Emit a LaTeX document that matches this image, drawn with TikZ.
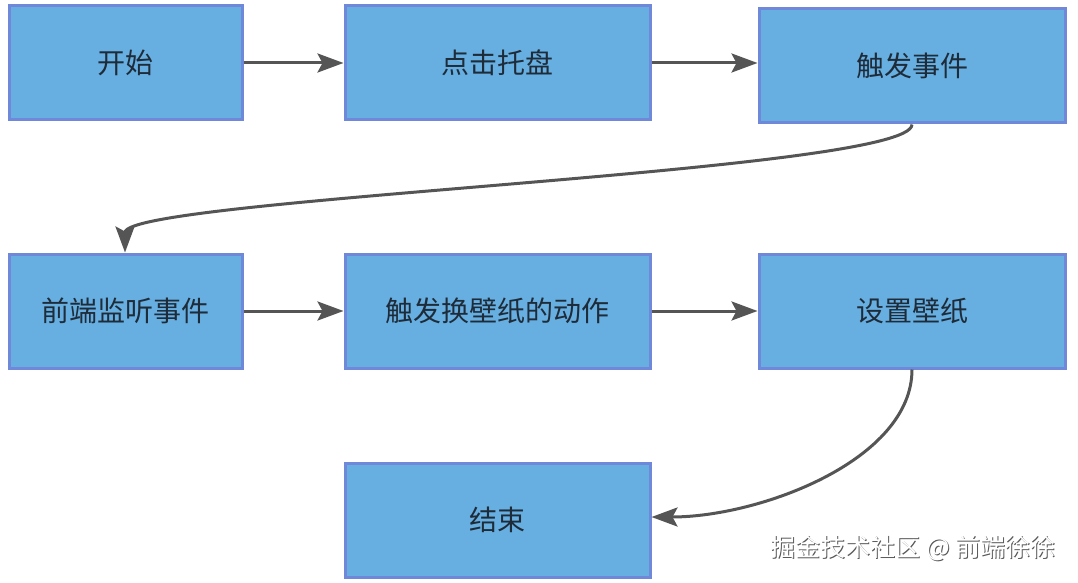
\documentclass[tikz,border=0pt]{standalone}
\usepackage{fontspec}
\setmainfont{Noto Sans CJK SC}
\usetikzlibrary{arrows.meta}
\definecolor{boxfill}{HTML}{67AEE1}
\definecolor{boxline}{HTML}{6F88DA}
\definecolor{txt}{HTML}{1E2B38}
\definecolor{arr}{HTML}{555555}
\begin{document}
\begin{tikzpicture}[x=1pt,y=-1pt,
  box/.style={draw=boxline, line width=3pt, fill=boxfill, inner sep=0pt,
    minimum height=114pt, text=txt, font=\fontsize{28}{32}\selectfont},
  conn/.style={draw=arr, line width=3pt, -{Stealth[length=26pt,width=19pt,inset=5pt]}},
  wmfont/.style={font=\fontsize{25}{29}\selectfont, anchor=east}]
\useasboundingbox (0,0) rectangle (1078,583);
\node[box, minimum width=233pt] (a) at (125.5,63) {开始};
\node[box, minimum width=305pt] (b) at (497.5,63) {点击托盘};
\node[box, minimum width=306pt] (c) at (912,66) {触发事件};
\node[box, minimum width=233pt] (d) at (125.5,311) {前端监听事件};
\node[box, minimum width=305pt] (e) at (497.5,311) {触发换壁纸的动作};
\node[box, minimum width=306pt] (f) at (912,311) {设置壁纸};
\node[box, minimum width=305pt] (g) at (497.5,520) {结束};
\draw[conn] (a.east) -- (b.west);
\draw[conn] (b.east) -- (b.east -| c.west);
\draw[conn] (d.east) -- (e.west);
\draw[conn] (e.east) -- (f.west);
\draw[conn] (c.south) .. controls (912,172) and (125,198) .. (d.north -| 125,0);
\draw[conn] (f.south) .. controls (912,460) and (760,517) .. (g.east |- 0,517);
\node[text=gray!70!black, wmfont] (wms) at (1059.8,548.8) {掘金技术社区 @ 前端徐徐};
\node[text=white, wmfont] (wm) at (1059,548) {掘金技术社区 @ 前端徐徐};
\end{tikzpicture}
\end{document}
